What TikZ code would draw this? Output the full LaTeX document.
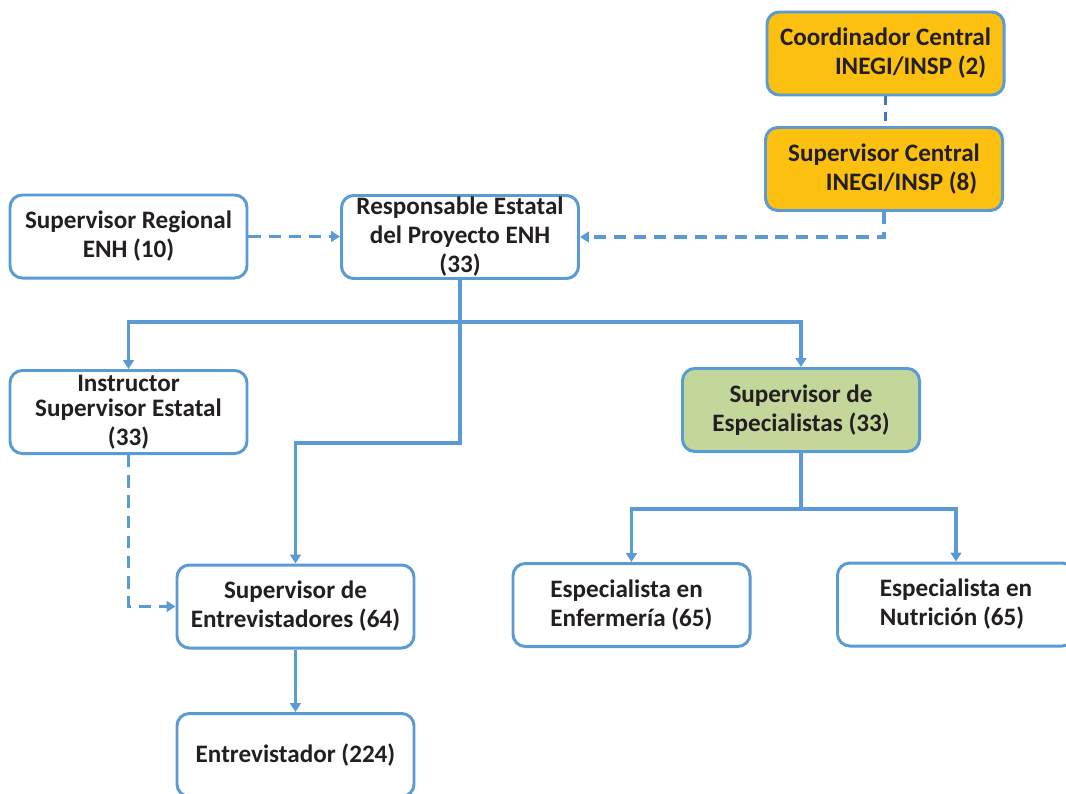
\documentclass[tikz,border=0pt]{standalone}
\usepackage{fontspec}
\setmainfont{Carlito}
\usetikzlibrary{ arrows.meta
               , positioning
               }
\definecolor{lineBlue}{RGB}{91,155,213}
\definecolor{darkBlue}{RGB}{68,114,196}
\definecolor{centralGold}{RGB}{252,192,16}
\definecolor{specGreen}{RGB}{196,215,155}
\definecolor{textDark}{RGB}{35,31,32}

\begin{document}
\begin{tikzpicture}
      [ x=0.2mm, y=-0.2mm
      , box/.style={draw=lineBlue, line width=1.7pt, rounded corners=7pt, fill=white,
                    minimum width=47.4mm, minimum height=16.6mm, inner sep=1pt,
                    align=center, text=textDark,
                    font=\fontsize{14.3}{16.5}\selectfont\bfseries}
      , central/.style={box, fill=centralGold}
      , special/.style={box, fill=specGreen}
      , leaf/.style={box, align=left}
      , solidLink/.style={draw=lineBlue, line width=2pt,
                          -{Triangle[width=6pt,length=5pt]}}
      , dashLink/.style={solidLink, dash pattern=on 7pt off 4.5pt}
      , plainLink/.style={draw=lineBlue, line width=2pt}
      , centralLink/.style={draw=darkBlue, line width=1.5pt, dash pattern=on 5pt off 4pt}
      ]
    \clip (0,0) rectangle (1066,793);

    \node[central] (CC) at (885.5,53.5) {Coordinador Central\\\hspace*{2em}INEGI/INSP (2)};
    \node[central] (SC) at (884,169) {Supervisor Central\\\hspace*{1.4em}INEGI/INSP (8)};
    \node[box] (SR) at (128.5,236.5) {Supervisor Regional\\ENH (10)};
    \node[box] (RE) at (460,237)
        {Responsable Estatal\\del Proyecto ENH\\(33)};
    \node[box] (IS) at (128.5,412) {Instructor\\[-2pt]Supervisor Estatal\\(33)};
    \node[special] (SEsp) at (801,410) {Supervisor de\\Especialistas (33)};
    \node[box] (SEnt) at (295.5,606.5) {Supervisor de\\Entrevistadores (64)};
    \node[box] (Ent) at (295.5,755) {Entrevistador (224)};
    \node[leaf] (Enf) at (631.5,605) {Especialista en\\Enfermería (65)};
    \node[leaf] (Nut) at (956,604.5) {Especialista en\\Nutrición (65)};

    \coordinate (split) at (460,322);
    \coordinate (bend) at (460,443);
    \coordinate (fork) at (801,509);

    \draw[centralLink] (CC.south) -- (CC.south |- SC.north);

    \draw[dashLink]
    (SR.east) -- (SR.east -| RE.west);
    \draw[dashLink] (SC.south) |- (RE.east);

    \draw[solidLink] (split) -| (IS.north);
    \draw[solidLink] (split) -| (SEsp.north);
    \draw[solidLink] (RE.south) -- (bend) -| (SEnt.north);

    \draw[dashLink] (IS.south) |- (SEnt.west);
    \draw[solidLink] (SEnt) -- (Ent);

    \draw[plainLink] (SEsp.south) -- (fork);
    \draw[solidLink] (fork) -| (Enf.north);
    \draw[solidLink] (fork) -| (Nut.north);
\end{tikzpicture}
\end{document}
